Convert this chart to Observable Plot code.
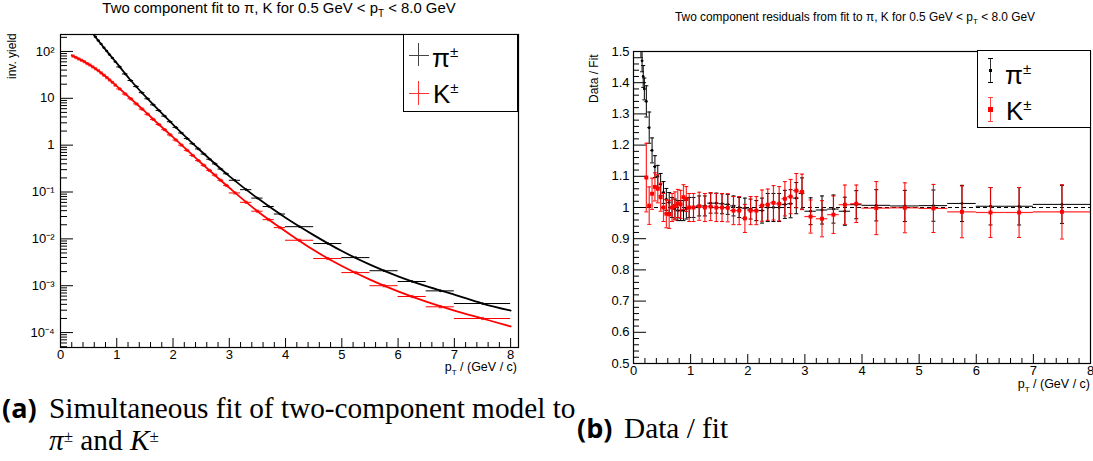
<!DOCTYPE html>
<html><head><meta charset="utf-8">
<script src="https://cdn.jsdelivr.net/npm/d3@7"></script>
<script src="https://cdn.jsdelivr.net/npm/@observablehq/plot@0.6"></script>
<style>
body{margin:0;background:#fff;width:1093px;height:461px;position:relative;overflow:hidden;font-family:"Liberation Sans",Arial,sans-serif;color:#000}
.abs{position:absolute;white-space:nowrap;line-height:1}
.legend{position:absolute;border:1px solid #000;background:#fff;box-sizing:border-box}
.ln{position:absolute;background:#000}
.cap{font-family:"Liberation Serif","DejaVu Serif",serif;font-size:29.3px}
.lab{font-family:"Open Sans",sans-serif;font-weight:bold;font-size:27px}
</style></head><body>
<div id="left" class="abs" style="left:0;top:0"></div>
<div id="right" class="abs" style="left:560px;top:0"></div>
<script>
// ---------------- data ----------------
// pion bins: centres and half widths (GeV/c)
const piPt = [0.11,0.13,0.15,0.17,0.19,
  0.225,0.275,0.325,0.375,0.425,0.475,0.525,0.575,0.625,0.675,0.725,0.775,0.825,0.875,0.925,0.975,
  1.05,1.15,1.25,1.35,1.45,1.55,1.65,1.75,1.85,1.95,2.05,2.15,2.25,2.35,2.45,2.55,2.65,2.75,2.85,2.95,
  3.1,3.3,3.5,3.7,3.9,4.25,4.75,5.25,5.75,6.25,6.75,7.5];
const piHalf = [0.01,0.01,0.01,0.01,0.01,
  0.025,0.025,0.025,0.025,0.025,0.025,0.025,0.025,0.025,0.025,0.025,0.025,0.025,0.025,0.025,0.025,
  0.05,0.05,0.05,0.05,0.05,0.05,0.05,0.05,0.05,0.05,0.05,0.05,0.05,0.05,0.05,0.05,0.05,0.05,0.05,0.05,
  0.1,0.1,0.1,0.1,0.1,0.25,0.25,0.25,0.25,0.25,0.25,0.5];
// log10 of the invariant yield
const piLogYield = [3.18,3.15,3.12,3.08,3.04,
  2.94,2.86,2.78,2.70,2.62,2.54,2.46,2.38,2.31,2.23,2.16,2.08,2.01,1.93,1.86,1.78,
  1.67,1.52,1.38,1.25,1.12,0.99,0.86,0.74,0.62,0.50,0.38,0.26,0.14,0.03,-0.08,-0.19,-0.30,-0.40,-0.51,-0.61,
  -0.75,-0.95,-1.13,-1.31,-1.47,-1.74,-2.10,-2.40,-2.68,-2.91,-3.11,-3.38];
// data / fit
const piRatio = [1.58,1.52,1.47,1.42,1.38,
  1.34,1.256,1.183,1.131,1.10,1.074,1.048,1.026,1.016,1.0,0.995,0.99,0.99,0.99,0.995,1.0,
  1.0,1.005,1.005,1.014,1.014,1.012,1.01,1.005,1.0,0.998,0.995,0.99,0.99,1.0,1.0,1.0,1.01,1.012,1.03,1.045,
  0.988,0.992,0.995,0.988,1.009,1.007,1.005,1.006,1.013,1.004,1.004,1.01];
const piRatioErr = [0.04,0.04,0.035,0.035,0.035,
  0.05,0.05,0.04,0.035,0.035,0.035,0.035,0.035,0.032,0.032,0.032,0.032,0.032,0.032,0.032,0.032,
  0.032,0.032,0.032,0.032,0.032,0.032,0.032,0.032,0.032,0.032,0.032,0.032,0.04,0.045,0.045,0.045,0.045,0.045,0.05,0.05,
  0.043,0.045,0.045,0.045,0.045,0.05,0.05,0.05,0.058,0.06,0.06,0.061];

const kPt = [0.225,0.275,0.325,0.375,0.425,0.475,0.525,0.575,0.625,0.675,0.725,0.775,0.825,0.875,0.925,0.975,
  1.05,1.15,1.25,1.35,1.45,1.55,1.65,1.75,1.85,1.95,2.05,2.15,2.25,2.35,2.45,2.55,2.65,2.75,2.85,2.95,
  3.1,3.3,3.5,3.7,3.9,4.25,4.75,5.25,5.75,6.25,6.75,7.5];
const kHalf = [0.025,0.025,0.025,0.025,0.025,0.025,0.025,0.025,0.025,0.025,0.025,0.025,0.025,0.025,0.025,0.025,
  0.05,0.05,0.05,0.05,0.05,0.05,0.05,0.05,0.05,0.05,0.05,0.05,0.05,0.05,0.05,0.05,0.05,0.05,0.05,0.05,
  0.1,0.1,0.1,0.1,0.1,0.25,0.25,0.25,0.25,0.25,0.25,0.5];
const kLogYield = [1.90,1.87,1.84,1.81,1.78,1.74,1.71,1.67,1.63,1.59,1.54,1.49,1.44,1.39,1.34,1.28,
  1.20,1.09,0.99,0.88,0.77,0.66,0.55,0.44,0.33,0.22,0.11,0.00,-0.11,-0.22,-0.33,-0.43,-0.54,-0.64,-0.75,-0.86,
  -1.02,-1.22,-1.41,-1.59,-1.76,-2.03,-2.42,-2.72,-3.00,-3.23,-3.45,-3.70];
const kRatio = [1.096,1.006,1.044,1.066,1.06,1.033,1.0,0.98,0.978,1.0,1.005,1.013,1.01,1.033,1.027,1.0,
  1.0,1.004,1.0,1.003,1.0,1.0,0.999,0.99,0.99,0.965,0.99,0.99,1.006,1.009,1.015,1.012,1.028,1.035,1.054,1.05,
  0.971,0.964,0.977,1.009,1.012,0.998,0.999,0.997,0.986,0.984,0.984,0.986];
const kRatioErr = [0.11,0.06,0.05,0.045,0.045,0.045,0.045,0.045,0.045,0.045,0.045,0.045,0.045,0.04,0.04,0.045,
  0.045,0.045,0.045,0.045,0.045,0.045,0.045,0.045,0.045,0.045,0.045,0.045,0.05,0.05,0.055,0.055,0.055,0.055,0.055,0.057,
  0.053,0.058,0.06,0.063,0.06,0.085,0.08,0.077,0.083,0.08,0.08,0.087];

// fit curves (log10 yield) sampled from the drawn lines
const piFitPt = [0.5,0.6,0.8,1.0,1.25,1.5,1.75,2.0,2.5,3.0,3.5,4.0,4.5,5.0,5.5,6.0,6.5,7.0,7.5,8.0];
const piFitLog = [2.50,2.34,2.04,1.75,1.38,1.05,0.74,0.44,-0.13,-0.66,-1.13,-1.55,-1.92,-2.26,-2.55,-2.80,-3.01,-3.19,-3.38,-3.53];
const kFitPt = [0.2,0.4,0.6,0.8,1.0,1.25,1.5,1.75,2.0,2.5,3.0,3.5,4.0,4.5,5.0,5.5,6.0,6.5,7.0,7.5,8.0];
const kFitLog = [1.92,1.80,1.65,1.47,1.26,0.99,0.72,0.44,0.17,-0.38,-0.91,-1.41,-1.84,-2.24,-2.58,-2.87,-3.12,-3.34,-3.53,-3.70,-3.87];

const xTicks = [0,1,2,3,4,5,6,7,8];
const yLogTicks = [1e-4,1e-3,1e-2,1e-1,1,10,100];
const yLogTickLabels = ["10\u207B\u2074","10\u207B\u00B3","10\u207B\u00B2","10\u207B\u00B9","1","10","10\u00B2"];
const yRatioTicks = [0.5,0.6,0.7,0.8,0.9,1,1.1,1.2,1.3,1.4,1.5];
const yRatioTickLabels = ["0.5","0.6","0.7","0.8","0.9","1","1.1","1.2","1.3","1.4","1.5"];

// ---------------- tables ----------------
const pi = piPt.map((x,i)=>({x, lo:x-piHalf[i], hi:x+piHalf[i], y:Math.pow(10,piLogYield[i]), r:piRatio[i], e:piRatioErr[i]}));
const ka = kPt.map((x,i)=>({x, lo:x-kHalf[i], hi:x+kHalf[i], y:Math.pow(10,kLogYield[i]), r:kRatio[i], e:kRatioErr[i]}));
const piFit = piFitPt.map((x,i)=>({x, y:Math.pow(10,piFitLog[i])}));
const kFit = kFitPt.map((x,i)=>({x, y:Math.pow(10,kFitLog[i])}));

const xMinor = d3.range(0, 8.01, 0.2).filter(v=>Math.abs(v-Math.round(v))>1e-6);
const yLogMinor = [];
for (let e=-5;e<=2;e++) for (let m=2;m<=9;m++) yLogMinor.push(m*Math.pow(10,e));
const yRatioMinor = d3.range(0.5,1.501,0.02).filter(v=>Math.abs(v*10-Math.round(v*10))>1e-6);

const capSym = {draw(ctx, size){ const r = Math.sqrt(size/Math.PI); ctx.moveTo(-r,0); ctx.lineTo(r,0);} };
const font = "'Liberation Sans', Arial, sans-serif";
const RED = "#ff0000";

// ---------------- left plot ----------------
const left = Plot.plot({
  width: 540, height: 380,
  marginLeft: 60, marginRight: 22, marginTop: 34, marginBottom: 33,
  style: {fontFamily: font, fontSize: "13px", background: "transparent", color: "#000"},
  x: {domain: [0, 8.14]},
  y: {type: "log", domain: [4.8e-5, 230]},
  marks: [
    Plot.axisY(yLogMinor.filter(v=>v>4.8e-5 && v<230), {tickSize:-7, tickFormat:()=>"", label:null}),
    Plot.axisY(yLogTicks, {tickSize:-13, tickPadding:19, tickFormat:(d)=>yLogTickLabels[yLogTicks.indexOf(d)], label:null, fontSize:13}),
    Plot.axisX(xMinor, {tickSize:-5, tickFormat:()=>"", label:null}),
    Plot.axisX(xTicks, {tickSize:-9, tickPadding:11, label:null, fontSize:13}),
    Plot.line(kFit, {x:"x", y:"y", stroke:RED, strokeWidth:1.8, curve:"catmull-rom", clip:true}),
    Plot.line(piFit, {x:"x", y:"y", stroke:"#000", strokeWidth:1.8, curve:"catmull-rom", clip:true}),
    Plot.ruleY(ka, {y:"y", x1:"lo", x2:"hi", stroke:RED, strokeWidth:1, clip:true}),
    Plot.dot(ka, {x:"x", y:"y", symbol:"square", r:1.8, fill:RED, fillOpacity:0.7, clip:true}),
    Plot.ruleY(pi, {y:"y", x1:"lo", x2:"hi", stroke:"#000", strokeWidth:1, clip:true}),
    Plot.dot(pi, {x:"x", y:"y", r:1.3, fill:"#000", clip:true}),
    Plot.frame({stroke:"#000", strokeWidth:1.2})
  ]
});
document.getElementById("left").appendChild(left);

// ---------------- right plot ----------------
const right = Plot.plot({
  width: 533, height: 400,
  marginLeft: 73, marginRight: 3, marginTop: 51, marginBottom: 37,
  style: {fontFamily: font, fontSize: "13px", background: "transparent", color: "#000"},
  x: {domain: [0, 8]},
  y: {domain: [0.5, 1.5]},
  marks: [
    Plot.axisY(yRatioMinor, {tickSize:-6, tickFormat:()=>"", label:null}),
    Plot.axisY(yRatioTicks, {tickSize:-13, tickPadding:17, tickFormat:(d)=>yRatioTickLabels[yRatioTicks.indexOf(d)], label:null, fontSize:13}),
    Plot.axisX(xMinor, {tickSize:-5, tickFormat:()=>"", label:null}),
    Plot.axisX(xTicks, {tickSize:-9, tickPadding:11, label:null, fontSize:13}),
    Plot.ruleY([1], {stroke:"#000", strokeDasharray:"4,3", strokeWidth:1}),
    Plot.ruleY(pi, {y:"r", x1:"lo", x2:"hi", stroke:"#000", strokeWidth:1, clip:true}),
    Plot.ruleX(pi, {x:"x", y1:d=>d.r-d.e, y2:d=>d.r+d.e, stroke:"#000", strokeWidth:1, clip:true}),
    Plot.dot(pi, {x:"x", y:d=>d.r-d.e, symbol:capSym, r:2, stroke:"#000", strokeWidth:1, clip:true}),
    Plot.dot(pi, {x:"x", y:d=>d.r+d.e, symbol:capSym, r:2, stroke:"#000", strokeWidth:1, clip:true}),
    Plot.dot(pi, {x:"x", y:"r", r:1.4, fill:"#000", clip:true}),
    Plot.ruleY(ka, {y:"r", x1:"lo", x2:"hi", stroke:RED, strokeWidth:1.2, strokeOpacity:0.85, clip:true}),
    Plot.ruleX(ka, {x:"x", y1:d=>d.r-d.e, y2:d=>d.r+d.e, stroke:RED, strokeWidth:1.2, strokeOpacity:0.85, clip:true}),
    Plot.dot(ka, {x:"x", y:d=>d.r-d.e, symbol:capSym, r:2, stroke:RED, strokeWidth:1, clip:true}),
    Plot.dot(ka, {x:"x", y:d=>d.r+d.e, symbol:capSym, r:2, stroke:RED, strokeWidth:1, clip:true}),
    Plot.dot(ka, {x:"x", y:"r", symbol:"square", r:2.2, fill:RED, clip:true}),
    Plot.frame({stroke:"#000", strokeWidth:1.2})
  ]
});
document.getElementById("right").appendChild(right);
</script>

<!-- titles and axis titles -->
<div class="abs" style="left:0;width:558px;text-align:center;top:1px;font-size:14.9px">Two component fit to π, K for 0.5 GeV &lt; p<sub style="font-size:10px">T</sub> &lt; 8.0 GeV</div>
<div class="abs" style="left:673px;width:364px;text-align:center;top:12px;font-size:11.9px">Two component residuals from fit to π, K for 0.5 GeV &lt; p<sub style="font-size:8px">T</sub> &lt; 8.0 GeV</div>
<div class="abs" style="left:6px;top:35px;font-size:12px;transform-origin:0 0;transform:translate(0,44px) rotate(-90deg)">inv. yield</div>
<div class="abs" style="left:588px;top:52px;font-size:12px;transform-origin:0 0;transform:translate(0,51px) rotate(-90deg)">Data / Fit</div>
<div class="abs" style="right:576px;top:361px;font-size:12.5px">p<sub style="font-size:8px">T</sub> / (GeV / c)</div>
<div class="abs" style="right:3px;top:378px;font-size:12.5px">p<sub style="font-size:8px">T</sub> / (GeV / c)</div>

<!-- legends -->
<div class="legend" style="left:403px;top:34px;width:115px;height:78px">
  <div class="ln" style="left:14px;top:8px;width:1px;height:23px;background:#444"></div>
  <div class="ln" style="left:5px;top:20px;width:20px;height:1px;background:#444"></div>
  <div class="abs" style="left:28px;top:9px;font-size:26px">π<sup style="font-size:15px;vertical-align:10px">±</sup></div>
  <div class="ln" style="left:14px;top:46px;width:1px;height:24px;background:#f33"></div>
  <div class="ln" style="left:5px;top:58px;width:20px;height:1px;background:#f33"></div>
  <div class="abs" style="left:29px;top:45px;font-size:26px">K<sup style="font-size:15px;vertical-align:10px">±</sup></div>
</div>
<div class="legend" style="left:977px;top:50px;width:114px;height:78px">
  <div class="ln" style="left:12px;top:7px;width:1px;height:24px;background:#333"></div>
  <div class="ln" style="left:10px;top:7px;width:5px;height:1px"></div>
  <div class="ln" style="left:10px;top:31px;width:5px;height:1px"></div>
  <div class="ln" style="left:11px;top:18px;width:3px;height:3px"></div>
  <div class="abs" style="left:27px;top:10px;font-size:26px">π<sup style="font-size:15px;vertical-align:10px">±</sup></div>
  <div class="ln" style="left:12px;top:46px;width:1px;height:24px;background:#f44"></div>
  <div class="ln" style="left:10px;top:46px;width:5px;height:1px;background:#f44"></div>
  <div class="ln" style="left:10px;top:70px;width:5px;height:1px;background:#f44"></div>
  <div class="ln" style="left:10px;top:56px;width:5px;height:5px;background:#f00"></div>
  <div class="abs" style="left:28px;top:46px;font-size:26px">K<sup style="font-size:15px;vertical-align:10px">±</sup></div>
</div>

<!-- captions -->
<div class="abs lab" style="left:2px;top:394px">(a)</div>
<div class="abs cap" style="left:49px;top:394px">Simultaneous fit of two-component model to</div>
<div class="abs cap" style="left:49px;top:426px"><i>π</i><sup style="font-size:17px;vertical-align:8px;line-height:0">±</sup> and <i>K</i><sup style="font-size:17px;vertical-align:8px;line-height:0">±</sup></div>
<div class="abs lab" style="left:577px;top:414px">(b)</div>
<div class="abs cap" style="left:624px;top:414px">Data / fit</div>
</body></html>
